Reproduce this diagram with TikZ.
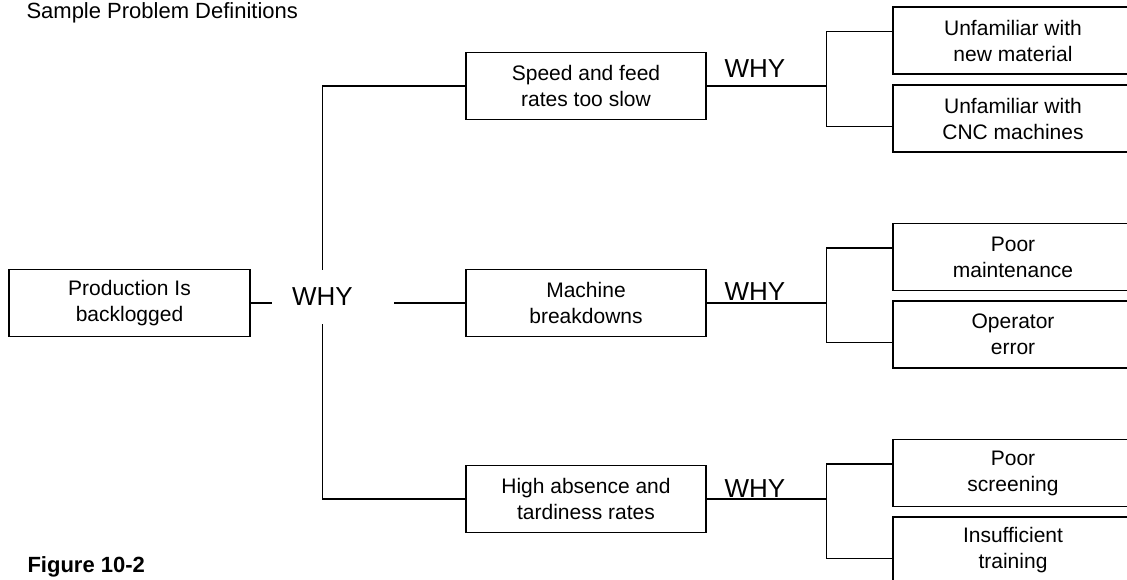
\documentclass[tikz,border=0pt]{standalone}
\usepackage{fontspec}
\setmainfont{Liberation Sans}

\tikzset{
  probbox/.style={draw, line width=1.3pt, minimum width=240pt, minimum height=67pt,
    inner sep=0pt, align=center, font=\fontsize{21}{26}\selectfont},
  why/.style={font=\fontsize{26}{30}\selectfont, inner sep=0pt},
  link/.style={line width=1.3pt},
}

\begin{document}
\begin{tikzpicture}[x=1pt, y=-1pt]
  \clip (0,0) rectangle (1127,579);
  % --- titres ---
  \node[anchor=base west, font=\fontsize{22}{26}\selectfont] (title) at (23,18) {Sample Problem Definitions};
  \node[anchor=base west, font=\bfseries\fontsize{22}{26}\selectfont] (fig) at (24,572) {Figure 10-2};
  % --- probleme ---
  \node[probbox, minimum width=241pt] (prob) at (129.5,303) {Production Is\\backlogged};
  \node[why, inner xsep=20pt, inner ysep=18pt] (w0) at (322.5,297) {WHY};
  % --- causes ---
  \node[probbox] (speed) at (586,86) {Speed and feed\\rates too slow};
  \node[probbox] (mach) at (586,303) {Machine\\breakdowns};
  \node[probbox] (high) at (586,499) {High absence and\\tardiness rates};
  \node[why, anchor=base] (w1) at (755,77) {WHY};
  \node[why, anchor=base] (w2) at (755,300) {WHY};
  \node[why, anchor=base] (w3) at (755,497) {WHY};
  % --- sous-causes ---
  \node[probbox] (c11) at (1013,40.5) {Unfamiliar with\\new material};
  \node[probbox] (c12) at (1013,118.5) {Unfamiliar with\\CNC machines};
  \node[probbox] (c21) at (1013,257) {Poor\\maintenance};
  \node[probbox] (c22) at (1013,334.5) {Operator\\error};
  \node[probbox] (c31) at (1013,473) {Poor\\screening};
  \node[probbox] (c32) at (1013,550.5) {Insufficient\\training};
  % liaisons
  \draw[link] (prob.east) -- (prob.east -| w0.west);
  \draw[link] (mach.west) -- ++(-71,0);
  \draw[link] (speed.west) -| (w0.north);
  \draw[link] (high.west) -| (w0.south);
  \foreach \a/\b/\c/\f in {speed/c11/c12/f1, mach/c21/c22/f2, high/c31/c32/f3}{
    \draw[link] (\a.east) -- ++(120,0) coordinate (\f);
    \draw[link] ([yshift=9pt]\b.west) -| (\f) |- ([yshift=-8pt]\c.west);
  }
\end{tikzpicture}
\end{document}
